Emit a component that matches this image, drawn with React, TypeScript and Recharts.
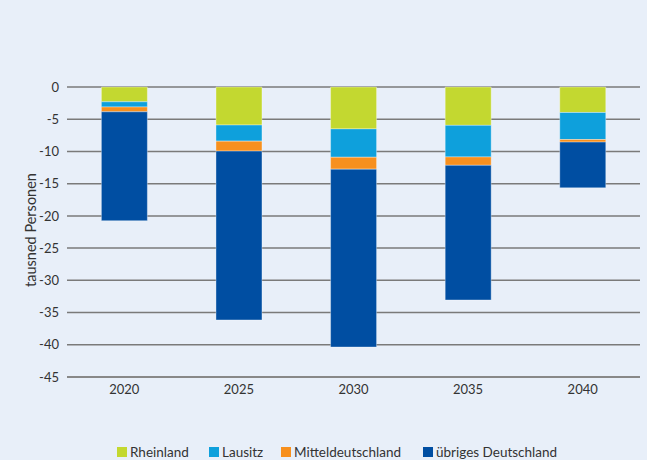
import { BarChart, Bar, XAxis, YAxis, CartesianGrid, Legend } from 'recharts';

const years = ['2020', '2025', '2030', '2035', '2040'];
const rheinland = [-2.3, -5.9, -6.5, -5.95, -3.95];
const lausitz = [-0.8, -2.5, -4.4, -4.9, -4.2];
const mitteldeutschland = [-0.75, -1.55, -1.85, -1.3, -0.4];
const uebriges = [-16.9, -26.2, -27.6, -20.9, -7.1];
const yTicks = [0, -5, -10, -15, -20, -25, -30, -35, -40, -45];
const boundaryTicks = [0, 1, 2, 3, 4, 5];

const series = [
  { key: 'rheinland', name: 'Rheinland', color: '#c3d830', width: 92 },
  { key: 'lausitz', name: 'Lausitz', color: '#0ea0dc', width: 72 },
  { key: 'mittel', name: 'Mitteldeutschland', color: '#f7901e', width: 142 },
  { key: 'uebriges', name: 'übriges Deutschland', color: '#004ea2', width: 170 },
];

const data = years.map((year, i) => ({
  year,
  rheinland: rheinland[i],
  lausitz: lausitz[i],
  mittel: mitteldeutschland[i],
  uebriges: uebriges[i],
}));

const FONT = 'Lato, "Open Sans", sans-serif';

function LegendContent() {
  return (
    <div style={{ height: 40, display: 'flex', paddingLeft: 117, paddingTop: 23, boxSizing: 'border-box' }}>
      {series.map((s) => (
        <div key={s.key} style={{ width: s.width, display: 'flex', alignItems: 'center', fontSize: 13.5, color: '#333', lineHeight: '16px' }}>
          <span style={{ width: 10, height: 10, background: s.color, marginRight: 3, display: 'inline-block' }} />
          {s.name}
        </div>
      ))}
    </div>
  );
}

function YLabel() {
  return (
    <text x={30} y={230} transform="rotate(-90, 30, 230)" textAnchor="middle" dominantBaseline="central" fontSize={14.5} fill="#333" fontFamily={FONT}>
      tausned Personen
    </text>
  );
}

export default function App() {
  return (
    <div style={{ width: 647, height: 460, background: '#e8eff9', fontFamily: FONT, position: 'relative' }}>
      <style>{'body{margin:0}'}</style>
      <BarChart
        width={647}
        height={460}
        data={data}
        margin={{ top: 87, right: 7, bottom: 0, left: 0 }}
        barCategoryGap="30%"
      >
        <CartesianGrid vertical={false} stroke="#7a7a7a" strokeWidth={1.5} />
        <XAxis
          dataKey="year"
          height={43}
          tickLine={false}
          axisLine={{ stroke: '#888', strokeWidth: 2 }}
          tick={{ fill: '#333', fontSize: 13 }}
        />
        <XAxis
          xAxisId="top"
          orientation="top"
          type="number"
          domain={[0, 5]}
          ticks={boundaryTicks}
          height={0}
          mirror
          tickSize={4}
          tick={false}
          axisLine={false}
          tickLine={{ stroke: '#333' }}
        />
        <YAxis
          width={67}
          domain={[-45, 0]}
          ticks={yTicks}
          tickLine={false}
          axisLine={false}
          tick={{ fill: '#333', fontSize: 13 }}
          label={<YLabel />}
        />
        <Legend verticalAlign="bottom" content={<LegendContent />} />
        {series.map((s) => (
          <Bar
            key={s.key}
            dataKey={s.key}
            name={s.name}
            stackId="a"
            fill={s.color}
            stroke="rgba(255,255,255,0.35)"
            strokeWidth={1}
            isAnimationActive={false}
          />
        ))}
      </BarChart>
    </div>
  );
}
